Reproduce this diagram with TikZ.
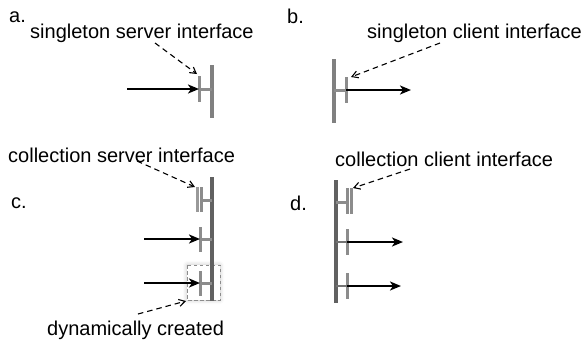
\documentclass[tikz,border=0pt]{standalone}
\usepackage{fontspec}
\setmainfont{Liberation Sans}
\usetikzlibrary{arrows.meta, shadows.blur}
\tikzset{>={Stealth[scale=1]}}
\tikzset{
  lbl/.style={anchor=base west, inner sep=0pt, font=\fontsize{20}{24}\selectfont},
  comp/.style={line width=4.2pt, black!50},
  compdark/.style={line width=4.2pt, black!62},
  itf/.style={line width=3pt, black!45},
  link/.style={line width=1.2pt, black!55},
  flow/.style={->, line width=2.4pt, black, >={Stealth[length=11pt, width=9pt, inset=3pt]}},
  note/.style={->, line width=1.1pt, black, dash pattern=on 5.5pt off 4pt,
    >={Straight Barb[length=6pt, width=7pt]}},
  dynbox/.style={line width=1pt, black!45, dash pattern=on 3.5pt off 2.5pt,
    fill=white, blur shadow={shadow xshift=0pt, shadow yshift=0pt,
    shadow blur radius=4pt, shadow opacity=25}}
}

\begin{document}
\begin{tikzpicture}[x=1pt, y=-1pt]
  \useasboundingbox (0,0) rectangle (584,341);

  % a. singleton server
  \node[lbl] (a) at (9,22) {a.};
  \node[lbl] (ssi) at (30,38) {singleton server interface};
  \draw[comp] (212,65) -- (212,118);
  \draw[itf] (199,76) -- (199,102);
  \draw[itf] (199,89) -- (212,89);
  \coordinate (ia) at (199,89);
  \coordinate (ta) at (127,89);
  \draw[flow] (ta) -- (ia);
  \coordinate (pa) at (155,43);
  \coordinate (qa) at (197,74);
  \draw[note] (pa) -- (qa);

  % b. singleton client
  \node[lbl] (b) at (287,23) {b.};
  \node[lbl] (sci) at (367,38) {singleton client interface};
  \draw[comp] (334,59) -- (334,123);
  \draw[itf] (346,77) -- (346,103);
  \draw[itf] (334,90) -- (346,90);
  \coordinate (ib) at (346,90);
  \coordinate (tb) at (411,90);
  \draw[flow] (ib) -- (tb);
  \coordinate (pb) at (440,43);
  \coordinate (qb) at (351,77);
  \draw[note] (pb) -- (qb);

  % c. collection server
  \node[lbl] (c) at (11,208) {c.};
  \node[lbl] (csi) at (8,162) {collection server interface};
  \node[lbl] (dyn) at (47,335) {dynamically created};
  \draw[dynbox] (187,265) rectangle (220,300);
  \draw[compdark] (212,177) -- (212,301);
  \draw[itf, black!40] (197,187) -- (197,212);
  \draw[itf] (201,187) -- (201,212);
  \draw[itf] (201,200) -- (212,200);
  \foreach \y in {239,283} {
    \draw[itf] (200,\y-12) -- (200,\y+13);
    \draw[itf] (200,\y) -- (212,\y);
    \coordinate (ic) at (200,\y);
    \coordinate (tc) at (144,\y);
    \draw[flow] (tc) -- (ic);
  }
  \coordinate (pc) at (137,161);
  \coordinate (qc) at (195,187);
  \draw[note] (pc) -- (qc);
  \coordinate (pd) at (138,314);
  \coordinate (qd) at (186,301);
  \draw[note] (pd) -- (qd);

  % d. collection client
  \node[lbl] (d) at (290,210) {d.};
  \node[lbl] (cci) at (335,166) {collection client interface};
  \draw[compdark] (336,180) -- (336,303);
  \draw[itf] (347,188) -- (347,214);
  \draw[itf] (351,188) -- (351,214);
  \draw[itf] (336,202) -- (347,202);
  \foreach \y/\e in {242/403,286/401} {
    \draw[itf] (347,\y-13) -- (347,\y+13);
    \draw[link] (336,\y) -- (347,\y);
    \coordinate (id) at (347,\y);
    \coordinate (td) at (\e,\y);
    \draw[flow] (id) -- (td);
  }
  \coordinate (pe) at (410,169);
  \coordinate (qe) at (353,188);
  \draw[note] (pe) -- (qe);
\end{tikzpicture}
\end{document}
